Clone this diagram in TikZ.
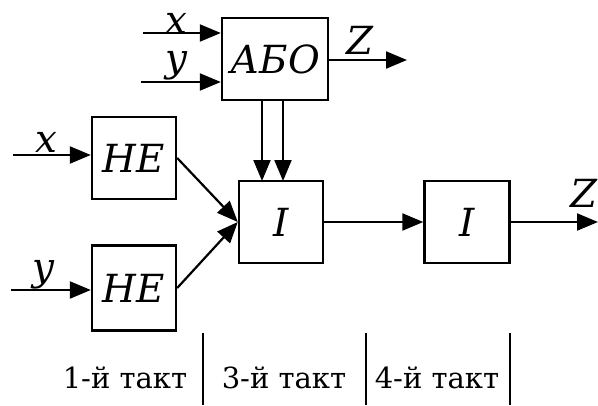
\documentclass[tikz,border=0pt]{standalone}
\usepackage{fontspec}
\setmainfont{DejaVu Serif}[Scale=0.88]
\usetikzlibrary{arrows.meta}

\begin{document}
\begin{tikzpicture}[x=1pt,y=-1pt,
  blk/.style={draw, line width=2.4pt, inner sep=0pt, minimum width=84pt, minimum height=82pt, font=\fontsize{44}{44}\selectfont\itshape},
  lbl/.style={inner sep=0pt, font=\fontsize{44}{44}\selectfont\itshape},
  tact/.style={anchor=base, inner sep=0pt, font=\fontsize{33}{33}\selectfont},
  wire/.style={line width=2.2pt, -{Triangle[length=21pt,width=17pt]}},
  sep/.style={line width=2.2pt}]
\useasboundingbox (0,0) rectangle (598,405);
% blocks
\node[blk, minimum width=106pt] (abo) at (275,59) {АБО};
\node[blk] (he1) at (134,158) {НЕ};
\node[blk, minimum height=85pt] (he2) at (134,288) {НЕ};
\node[blk] (and1) at (281,222) {I};
\node[blk, minimum width=85pt] (and2) at (467,222) {I};
% inputs of ABO
\coordinate (xa) at (143,33);
\coordinate (ya) at (141,82);
\draw[wire] (xa) -- (abo.west |- xa);
\draw[wire] (ya) -- (abo.west |- ya);
\node[lbl] (xalbl) at (176,23) {x};
\node[lbl] (yalbl) at (176,66) {y};
% output of ABO
\coordinate (za) at (407,60);
\draw[wire] (abo.east |- za) -- (za);
\node[lbl] (zalbl) at (360,40) {Z};
% ABO to I
\draw[wire] (262,100) -- (262,181);
\draw[wire] (283,100) -- (283,181);
% inputs of NE
\coordinate (xb) at (13,155);
\coordinate (yb) at (11,290);
\draw[wire] (xb) -- (he1.west |- xb);
\draw[wire] (yb) -- (he2.west |- yb);
\node[lbl] (xblbl) at (46,142) {x};
\node[lbl] (yblbl) at (43,275) {y};
% NE to I
\draw[wire] (he1.east) -- (and1.west);
\draw[wire] (he2.east) -- (and1.west);
% I to I
\draw[wire] (and1.east) -- (and2.west);
\coordinate (zb) at (598,222);
\draw[wire] (and2.east) -- (zb);
\node[lbl] (zblbl) at (584,193) {Z};
% tacts
\node[tact] (t1) at (125,388) {1-й такт};
\node[tact] (t3) at (284,388) {3-й такт};
\node[tact] (t4) at (437,388) {4-й такт};
\draw[sep] (203,333) -- (203,405);
\draw[sep] (366,333) -- (366,405);
\draw[sep] (510,333) -- (510,405);
\end{tikzpicture}
\end{document}
